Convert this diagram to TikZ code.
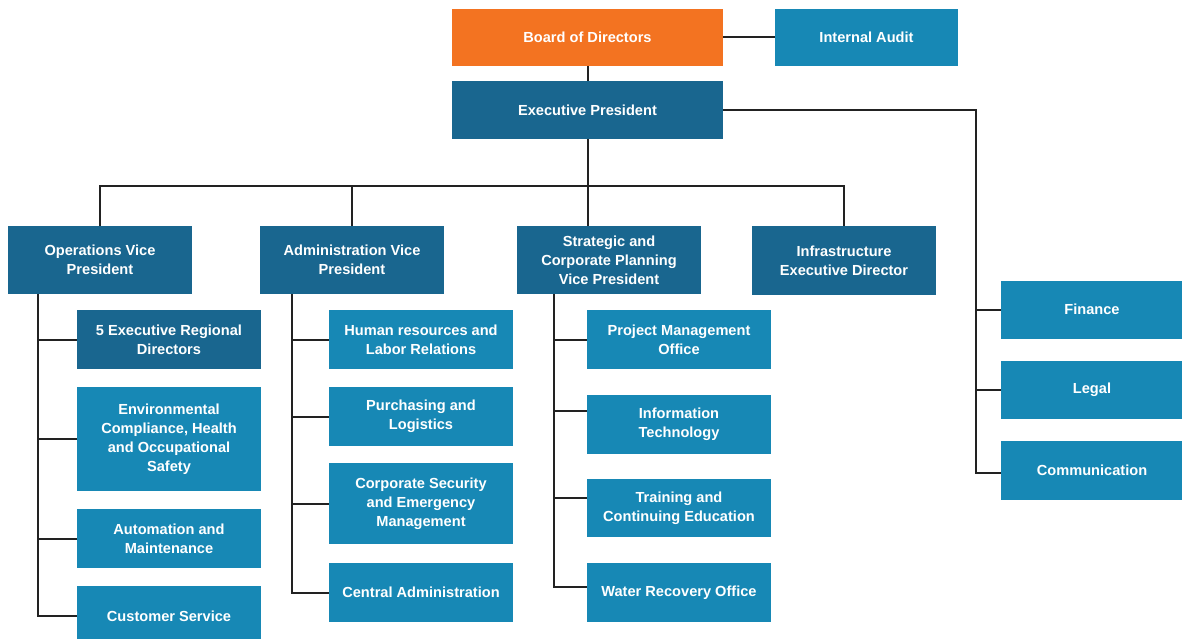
\documentclass[tikz,border=0pt]{standalone}
\usepackage{fontspec}
\setmainfont{Liberation Sans}
\definecolor{orangeb}{HTML}{F37321}
\definecolor{darkb}{HTML}{19668F}
\definecolor{lightb}{HTML}{1788B5}
\definecolor{linec}{HTML}{222222}
\begin{document}
\begin{tikzpicture}[x=1pt,y=-1pt,
  box/.style={rectangle, inner sep=0pt, text=white, align=center,
    font=\fontsize{14.6}{19}\selectfont\bfseries, minimum width=184pt},
  obox/.style={box, fill=orangeb},
  dbox/.style={box, fill=darkb},
  lbox/.style={box, fill=lightb},
  conn/.style={draw=linec, line width=2pt}]
\useasboundingbox (0,0) rectangle (1182,639);
% top
\node[obox, minimum width=271pt, minimum height=57pt] (board) at (587.5,37.5) {Board of Directors};
\node[lbox, minimum width=183pt, minimum height=57pt] (ia) at (866.5,37.5) {Internal Audit};
\node[dbox, minimum width=271pt, minimum height=58pt] (ep) at (587.5,110) {Executive President};
% VPs
\node[dbox, minimum height=68pt] (ops) at (100,260) {Operations Vice\\President};
\node[dbox, minimum height=68pt] (adm) at (352,260) {Administration Vice\\President};
\node[dbox, minimum height=68pt] (stv) at (609,260) {Strategic and\\Corporate Planning\\Vice President};
\node[dbox, minimum height=69pt] (inf) at (844,260.5) {Infrastructure\\Executive Director};
% operations children
\node[dbox, minimum height=59pt] (reg) at (169,339.5) {5 Executive Regional\\Directors};
\node[lbox, minimum height=104pt] (env) at (169,439) {Environmental\\Compliance, Health\\and Occupational\\Safety};
\node[lbox, minimum height=59pt] (aut) at (169,538.5) {Automation and\\Maintenance};
\node[lbox, minimum height=60pt] (cus) at (169,616) {Customer Service};
% administration children
\node[lbox, minimum height=59pt] (hr) at (421,339.5) {Human resources and\\Labor Relations};
\node[lbox, minimum height=59pt] (pur) at (421,416.5) {Purchasing and\\Logistics};
\node[lbox, minimum height=81pt] (sec) at (421,503.5) {Corporate Security\\and Emergency\\Management};
\node[lbox, minimum height=59pt] (cen) at (421,592.5) {Central Administration};
% strategic children
\node[lbox, minimum height=59pt] (pmo) at (679,339.5) {Project Management\\Office};
\node[lbox, minimum height=59pt] (it) at (679,424.5) {Information\\Technology};
\node[lbox, minimum height=58pt] (tr) at (679,508) {Training and\\Continuing Education};
\node[lbox, minimum height=59pt] (wat) at (679,592.5) {Water Recovery Office};
% staff
\node[lbox, minimum width=182pt, minimum height=58pt] (fin) at (1092,309.5) {Finance};
\node[lbox, minimum width=182pt, minimum height=58pt] (leg) at (1092,390) {Legal};
\node[lbox, minimum width=182pt, minimum height=59pt] (com) at (1092,470.5) {Communication};
% connectors top
\draw[conn] (board.east) -- (ia.west);
\draw[conn] (board.south) -- (ep.north);
\coordinate (bus) at (587.5,186);
\draw[conn] (ep.south) -- (bus);
\draw[conn] (ops.north) |- (bus);
\draw[conn] (inf.north) |- (bus);
\draw[conn] (adm.north) -- (adm.north |- bus);
\draw[conn] (bus) -- (bus |- stv.north);
% staff
\coordinate (sx) at (975.5,110);
\draw[conn] (ep.east) -- (sx) |- ([yshift=-2.5pt]com.west);
\draw[conn] (sx) |- (fin.west);
\draw[conn] (sx) |- (leg.west);
% operations trunk
\coordinate (ot) at (38,294);
\draw[conn] (ot) |- (cus.west);
\draw[conn] (ot) |- (reg.west);
\draw[conn] (ot) |- (env.west);
\draw[conn] (ot) |- (aut.west);
% administration trunk
\coordinate (at) at (292,294);
\draw[conn] (at) |- (cen.west);
\draw[conn] (at) |- (hr.west);
\draw[conn] (at) |- (pur.west);
\draw[conn] (at) |- (sec.west);
% strategic trunk
\coordinate (st) at (554,294);
\draw[conn] (st) |- ([yshift=5.5pt]wat.west);
\draw[conn] (st) |- (pmo.west);
\draw[conn] (st) |- ([yshift=13.5pt]it.west);
\draw[conn] (st) |- ([yshift=10pt]tr.west);
\end{tikzpicture}
\end{document}
